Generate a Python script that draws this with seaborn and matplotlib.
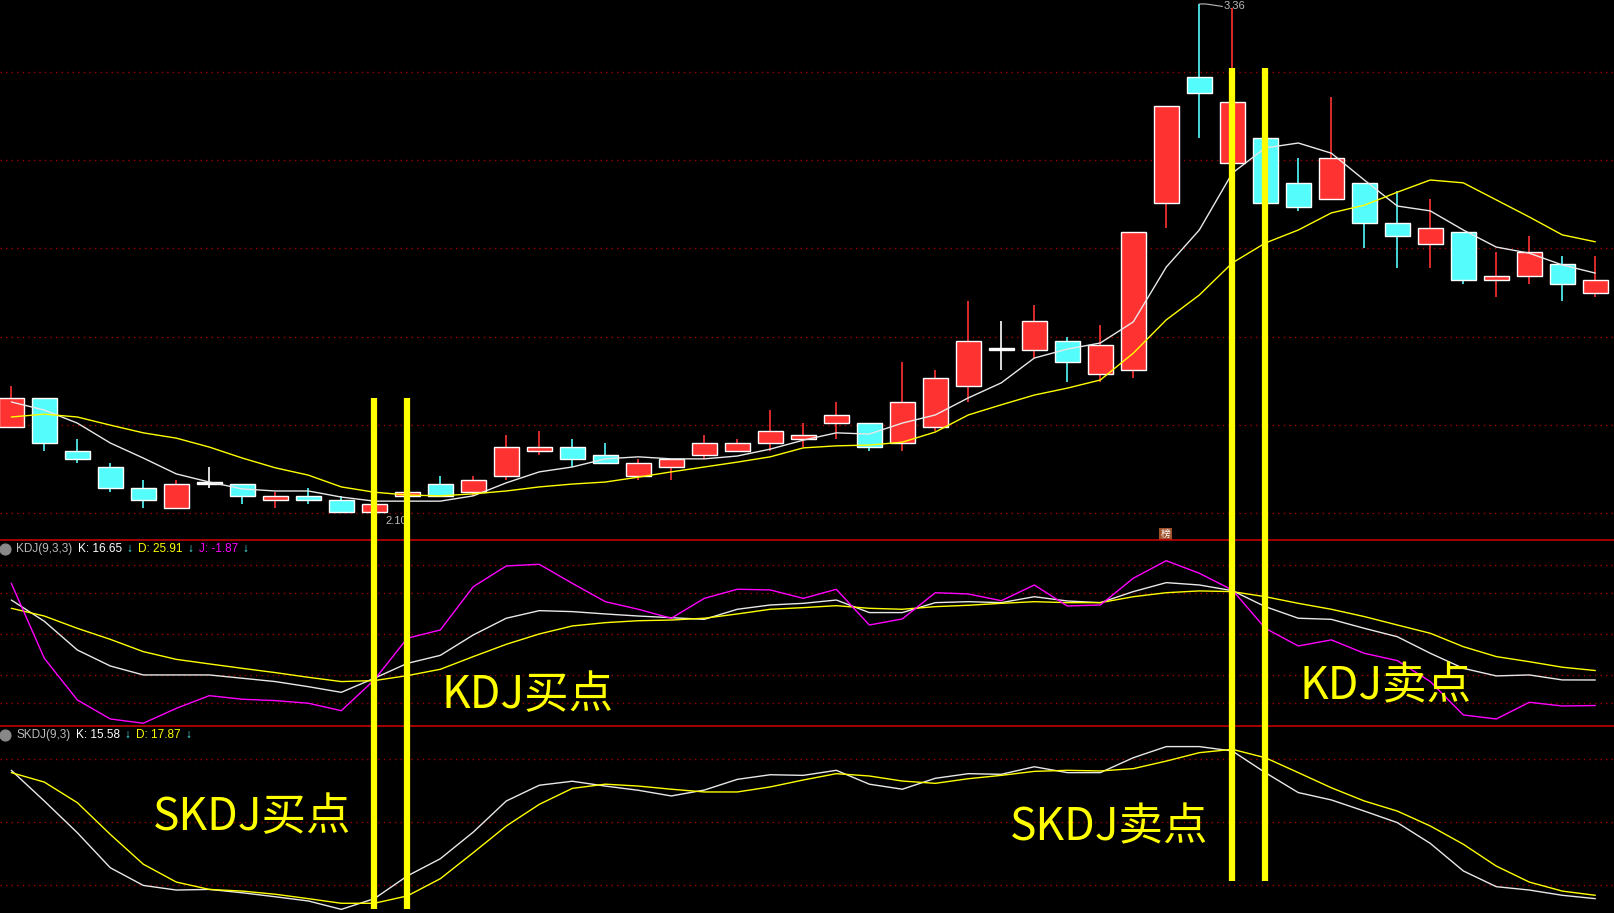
import numpy as np
import pandas as pd
import matplotlib
matplotlib.use("Agg")
import matplotlib.pyplot as plt
import seaborn as sns

sns.set_style("dark")
plt.rcParams["font.family"] = ["Noto Sans CJK SC", "DejaVu Sans"]

# daily bars
opens  = [2.32, 2.39, 2.26, 2.22, 2.17, 2.12, 2.18, 2.18, 2.14, 2.15,
          2.14, 2.11, 2.15, 2.18, 2.16, 2.20, 2.26, 2.27, 2.25, 2.20,
          2.22, 2.25, 2.26, 2.28, 2.29, 2.33, 2.33, 2.28, 2.32, 2.42,
          2.51, 2.51, 2.53, 2.45, 2.46, 2.87, 3.18, 2.97, 3.03, 2.92,
          2.88, 2.92, 2.82, 2.77, 2.80, 2.68, 2.69, 2.72, 2.65]
closes = [2.39, 2.28, 2.24, 2.17, 2.14, 2.18, 2.18, 2.15, 2.15, 2.14,
          2.11, 2.13, 2.16, 2.15, 2.19, 2.27, 2.27, 2.24, 2.23, 2.23,
          2.24, 2.28, 2.28, 2.31, 2.30, 2.35, 2.27, 2.38, 2.44, 2.53,
          2.51, 2.58, 2.48, 2.52, 2.80, 3.11, 3.14, 3.12, 2.87, 2.86,
          2.98, 2.82, 2.79, 2.81, 2.68, 2.69, 2.75, 2.67, 2.68]
highs  = [2.42, 2.39, 2.29, 2.23, 2.19, 2.19, 2.22, 2.18, 2.16, 2.17,
          2.15, 2.13, 2.16, 2.20, 2.20, 2.30, 2.31, 2.29, 2.28, 2.24,
          2.24, 2.30, 2.29, 2.36, 2.33, 2.38, 2.33, 2.48, 2.46, 2.63,
          2.58, 2.62, 2.54, 2.57, 2.80, 3.11, 3.36, 3.35, 3.03, 2.98,
          3.13, 2.92, 2.90, 2.88, 2.80, 2.75, 2.79, 2.74, 2.74]
lows   = [2.32, 2.26, 2.23, 2.16, 2.12, 2.12, 2.17, 2.13, 2.12, 2.13,
          2.11, 2.10, 2.14, 2.15, 2.15, 2.19, 2.25, 2.22, 2.23, 2.19,
          2.19, 2.24, 2.26, 2.26, 2.27, 2.29, 2.26, 2.26, 2.31, 2.38,
          2.46, 2.49, 2.43, 2.43, 2.44, 2.81, 3.03, 2.97, 2.78, 2.85,
          2.88, 2.76, 2.71, 2.71, 2.67, 2.64, 2.67, 2.63, 2.64]

ma_short = [2.381, 2.361, 2.329, 2.280, 2.243, 2.204, 2.184, 2.167, 2.162, 2.162,
            2.147, 2.137, 2.137, 2.137, 2.150, 2.182, 2.209, 2.221, 2.241, 2.246,
            2.241, 2.241, 2.248, 2.265, 2.287, 2.305, 2.302, 2.329, 2.349, 2.391,
            2.428, 2.489, 2.511, 2.526, 2.578, 2.713, 2.804, 2.944, 3.006, 3.018,
            2.993, 2.927, 2.863, 2.851, 2.804, 2.762, 2.747, 2.718, 2.698]
ma_long  = [2.344, 2.351, 2.344, 2.324, 2.305, 2.292, 2.270, 2.243, 2.219, 2.201,
            2.172, 2.159, 2.152, 2.150, 2.155, 2.162, 2.172, 2.179, 2.184, 2.196,
            2.209, 2.221, 2.233, 2.246, 2.268, 2.273, 2.275, 2.282, 2.307, 2.349,
            2.374, 2.398, 2.415, 2.435, 2.501, 2.583, 2.644, 2.723, 2.772, 2.804,
            2.846, 2.865, 2.897, 2.927, 2.920, 2.878, 2.836, 2.792, 2.775]

kdj_k = [74.6, 59.2, 38.4, 26.8, 20.3, 20.3, 20.3, 17.9, 15.5, 11.8,
         7.7, 17.9, 28.7, 34.5, 49.3, 61.4, 66.9, 66.2, 64.5, 63.0,
         61.8, 60.6, 67.9, 71.0, 72.2, 74.6, 65.5, 65.5, 72.7, 73.4,
         72.7, 77.0, 73.9, 72.7, 80.7, 87.2, 85.5, 81.4, 69.8, 61.4,
         60.6, 54.1, 48.0, 36.0, 25.1, 19.6, 20.3, 16.7, 16.65]
kdj_d = [68.6, 63.0, 54.1, 46.1, 37.2, 31.6, 28.3, 25.1, 22.0, 18.6,
         15.5, 16.2, 19.8, 24.4, 33.6, 42.5, 50.0, 55.8, 58.2, 59.6,
         60.1, 61.4, 64.5, 67.9, 69.1, 70.5, 68.6, 67.9, 69.8, 70.8,
         72.2, 73.4, 72.7, 72.7, 77.0, 79.9, 81.2, 80.7, 77.0, 72.2,
         67.9, 62.6, 56.5, 50.5, 40.8, 33.6, 29.9, 25.9, 23.5]
kdj_j = [86.7, 32.4, 2.2, -11.6, -14.7, -3.9, 5.3, 2.7, 1.7, -0.2,
         -5.6, 16.7, 46.9, 52.9, 84.3, 99.3, 100.5, 86.7, 73.4, 67.9,
         61.4, 75.8, 82.4, 81.9, 75.8, 82.4, 56.5, 60.9, 79.9, 79.0,
         74.1, 85.5, 70.3, 71.0, 90.4, 103.1, 94.0, 81.9, 54.1, 41.3,
         45.7, 36.0, 30.7, 15.5, -8.7, -11.6, 0.5, -2.2, -1.87]

skdj_k = [74.6, 60.0, 44.9, 28.2, 19.8, 17.6, 17.9, 16.3, 14.4, 12.4,
          8.4, 13.5, 24.3, 32.5, 45.2, 60.0, 67.5, 69.4, 67.1, 65.1,
          62.4, 65.2, 70.3, 72.5, 72.2, 74.6, 68.0, 65.6, 70.8, 73.0,
          72.7, 76.3, 73.5, 73.5, 80.6, 85.9, 85.9, 83.8, 73.5, 64.0,
          60.5, 55.2, 49.7, 39.8, 26.7, 19.2, 17.6, 15.1, 13.5]
skdj_d = [73.5, 69.0, 59.2, 44.1, 29.9, 21.4, 17.9, 17.1, 15.6, 13.5,
          11.3, 11.3, 14.8, 23.0, 35.4, 48.1, 58.4, 66.0, 68.0, 67.1,
          65.6, 64.3, 64.3, 66.7, 70.0, 73.0, 71.9, 69.5, 68.4, 70.6,
          72.2, 74.1, 74.6, 74.3, 75.4, 79.0, 83.0, 84.6, 80.6, 73.5,
          66.3, 60.0, 55.2, 48.1, 39.4, 29.0, 21.4, 17.1, 15.1]

price_grid = [3.193, 2.976, 2.760, 2.541, 2.324, 2.108]
kdj_grid = [100, 80, 50, 20, 0]
skdj_grid = [80, 50, 20]

buy_days = [11, 12]
sell_days = [37, 38]

RED = "#ff3232"
CYAN = "#54fcfc"
YELLOW = "#ffff00"
MAGENTA = "#ff00ff"
GRID_RED = "#a00000"

W, H = 1615, 913
n = len(opens)
days = np.arange(n)
xlim = (-11.3 / 33, (W - 11.3) / 33)

fig = plt.figure(figsize=(W / 100, H / 100), dpi=100, facecolor="black")


def panel(top, bottom, ylim):
    ax = fig.add_axes([0, 1 - bottom / H, 1, (bottom - top) / H])
    ax.set_facecolor("black")
    ax.set_xlim(*xlim)
    ax.set_ylim(*ylim)
    ax.set_xticks([])
    ax.set_yticks([])
    ax.grid(False)
    for s in ax.spines.values():
        s.set_visible(False)
    return ax


def dotted(ax, levels):
    for v in levels:
        ax.axhline(v, color=GRID_RED, lw=1, ls=(0, (1, 3)), zorder=0)


# ---- price panel ----
ax1 = panel(0, 540, (2.0414, 3.3698))
dotted(ax1, price_grid)
df = pd.DataFrame({"day": days, "o": opens, "c": closes, "h": highs, "l": lows})
df["color"] = np.where(df.c > df.o, RED, np.where(df.c < df.o, CYAN, "white"))
ax1.vlines(df.day, df.l, df.h, colors=df.color, lw=1.2, zorder=2)
body_h = np.maximum((df.c - df.o).abs(), 0.003)
ax1.bar(df.day, body_h, bottom=np.minimum(df.o, df.c), width=0.74,
        color=df.color, zorder=3)
sns.lineplot(x=days, y=ma_short, ax=ax1, color="#e8e8e8", lw=1, zorder=4)
sns.lineplot(x=days, y=ma_long, ax=ax1, color=YELLOW, lw=1, zorder=4)
hi_i = int(np.argmax(highs))
lo_i = int(np.argmin(lows))
ax1.text(hi_i + 0.75, highs[hi_i] - 0.006, f"{highs[hi_i]:.2f}", color="#bbbbbb",
         fontsize=8, va="center", family=["Liberation Sans"])
ax1.plot([hi_i, hi_i + 0.2, hi_i + 0.7], [highs[hi_i], highs[hi_i], highs[hi_i] - 0.006],
         color="#bbbbbb", lw=0.8)
ax1.text(lo_i + 0.35, lows[lo_i] - 0.012, f"{lows[lo_i]:.2f}", color="#bbbbbb",
         fontsize=8, va="center", family=["Liberation Sans"])
ax1.text(34.98, 2.055, "榜", color="white", fontsize=7, ha="center", va="center",
         bbox=dict(boxstyle="square,pad=0.15", fc="#a0522d", ec="none"))

# ---- KDJ panel ----
ax2 = panel(540, 726, (-16.7, 118.1))
dotted(ax2, kdj_grid)
sns.lineplot(x=days, y=kdj_k, ax=ax2, color="#e8e8e8", lw=1)
sns.lineplot(x=days, y=kdj_d, ax=ax2, color=YELLOW, lw=1)
sns.lineplot(x=days, y=kdj_j, ax=ax2, color=MAGENTA, lw=1)

# ---- SKDJ panel ----
ax3 = panel(726, 913, (6.67, 95.7))
dotted(ax3, skdj_grid)
sns.lineplot(x=days, y=skdj_k, ax=ax3, color="#e8e8e8", lw=1)
sns.lineplot(x=days, y=skdj_d, ax=ax3, color=YELLOW, lw=1)

# ---- overlay in pixel space: separators, signal lines, labels ----
ov = fig.add_axes([0, 0, 1, 1], facecolor="none")
ov.set_xlim(*xlim)
ov.set_ylim(H, 0)
ov.axis("off")
ov.axhline(540, color="#c00000", lw=1.2)
ov.axhline(726, color="#c00000", lw=1.2)
ov.vlines(buy_days, 398, 909, colors=YELLOW, lw=4.5)
ov.vlines(sell_days, 68, 881, colors=YELLOW, lw=4.5)

big = dict(color=YELLOW, fontsize=32, va="center", ha="left")
ov.text(13.05, 695, "KDJ买点", **big)
ov.text(39.05, 686, "KDJ卖点", **big)
ov.text(4.3, 817, "SKDJ买点", **big)
ov.text(30.25, 827, "SKDJ卖点", **big)

hdr = ["Liberation Sans", "DejaVu Sans"]


def header(y, parts):
    ov.scatter([5 / 33 - 0.342], [y], s=60, color="#888888", zorder=5)
    ov.text(5 / 33 - 0.342, y, "⌄", color="black", fontsize=6, ha="center",
            va="center", family=hdr)
    for px, txt, col in parts:
        ov.text(px / 33 - 0.342, y, txt, color=col, fontsize=8.5, va="center",
                family=hdr)


header(549, [(16, "KDJ(9,3,3)", "#bbbbbb"),
             (78, f"K: {kdj_k[-1]:.2f}", "white"), (126, "↓", CYAN),
             (138, f"D: {25.91:.2f}", YELLOW), (187, "↓", CYAN),
             (199, f"J: {kdj_j[-1]:.2f}", MAGENTA), (242, "↓", CYAN)])
header(735, [(16, "SKDJ(9,3)", "#bbbbbb"),
             (76, "K: 15.58", "white"), (124, "↓", CYAN),
             (136, "D: 17.87", YELLOW), (185, "↓", CYAN)])

fig.savefig("out.png", dpi=100, facecolor="black")
